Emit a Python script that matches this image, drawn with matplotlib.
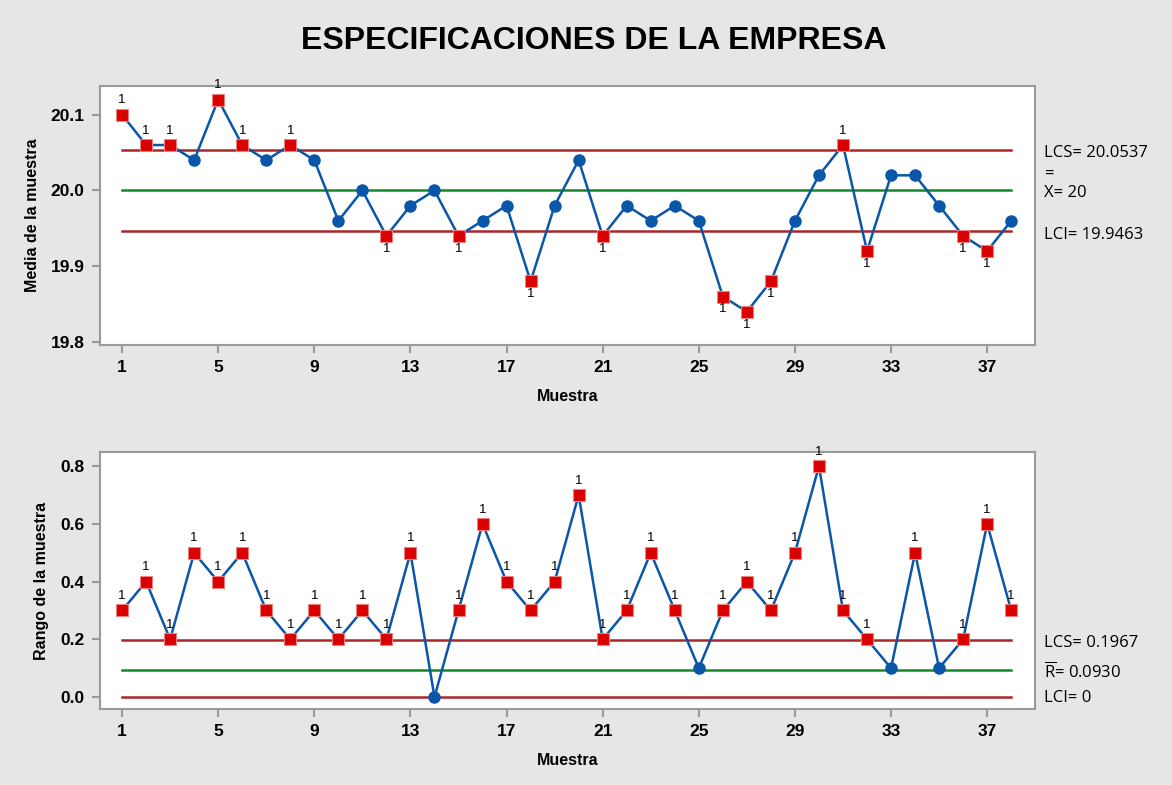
import matplotlib
matplotlib.use('Agg')
import matplotlib.pyplot as plt
import numpy as np

# datos
muestra = np.arange(1, 39)
medias = [20.10, 20.06, 20.06, 20.04, 20.12, 20.06, 20.04, 20.06, 20.04, 19.96,
          20.00, 19.94, 19.98, 20.00, 19.94, 19.96, 19.98, 19.88, 19.98, 20.04,
          19.94, 19.98, 19.96, 19.98, 19.96, 19.86, 19.84, 19.88, 19.96, 20.02,
          20.06, 19.92, 20.02, 20.02, 19.98, 19.94, 19.92, 19.96]
rangos = [0.3, 0.4, 0.2, 0.5, 0.4, 0.5, 0.3, 0.2, 0.3, 0.2,
          0.3, 0.2, 0.5, 0.0, 0.3, 0.6, 0.4, 0.3, 0.4, 0.7,
          0.2, 0.3, 0.5, 0.3, 0.1, 0.3, 0.4, 0.3, 0.5, 0.8,
          0.3, 0.2, 0.1, 0.5, 0.1, 0.2, 0.6, 0.3]
lim_x = [20.0537, 20.0, 19.9463]
lim_r = [0.1967, 0.0930, 0.0]
xticks = [1, 5, 9, 13, 17, 21, 25, 29, 33, 37]

azul = '#0a56a8'
rojo = '#d90000'
rojo_lin = '#a8282a'
verde = '#15882a'
gris = '#9a9a9a'
fondo = '#e6e6e6'

plt.rcParams['font.family'] = ['Liberation Sans', 'DejaVu Sans']
plt.rcParams['mathtext.fontset'] = 'custom'
plt.rcParams['mathtext.rm'] = 'Open Sans'

fig = plt.figure(figsize=(11.72, 7.85), dpi=100, facecolor=fondo)
fig.text(0.507, 0.948, 'ESPECIFICACIONES DE LA EMPRESA', ha='center', va='center',
         fontsize=23, fontweight='bold', color='black')

ax1 = fig.add_axes([0.0853, 0.5605, 0.798, 0.330])
ax2 = fig.add_axes([0.0853, 0.0968, 0.798, 0.327])


def carta(ax, y, lims, ylim, yticks, yfmt, ylabel):
    lcs, lc, lci = lims
    ax.plot([1, 38], [lcs, lcs], color=rojo_lin, lw=1.8, zorder=1)
    ax.plot([1, 38], [lc, lc], color=verde, lw=1.8, zorder=1)
    ax.plot([1, 38], [lci, lci], color=rojo_lin, lw=1.8, zorder=1)
    y = np.array(y)
    ax.plot(muestra, y, color=azul, lw=1.8, zorder=2)
    fuera = (y > lcs) | (y < lci)
    ax.plot(muestra[~fuera], y[~fuera], 'o', color=azul, ms=8, zorder=3)
    ax.plot(muestra[fuera], y[fuera], 's', color=rojo, mec='#f08080', mew=0.8,
            ms=8, zorder=3)
    for xi, yi in zip(muestra[fuera], y[fuera]):
        if yi > lcs:
            ax.annotate('1', (xi, yi), xytext=(0, 6), textcoords='offset points',
                        ha='center', va='bottom', fontsize=9.5)
        else:
            ax.annotate('1', (xi, yi), xytext=(0, -5), textcoords='offset points',
                        ha='center', va='top', fontsize=9.5)
    ax.set_xlim(0.08, 39.0)
    ax.set_ylim(*ylim)
    ax.set_xticks(xticks)
    ax.set_yticks(yticks)
    ax.set_yticklabels([yfmt.format(v) for v in yticks])
    ax.tick_params(direction='out', length=6, width=1.5, color=gris,
                   labelsize=12.5, pad=5)
    for lab in ax.get_xticklabels() + ax.get_yticklabels():
        lab.set_fontweight('bold')
    for s in ax.spines.values():
        s.set_color(gris)
        s.set_linewidth(1.5)
    ax.set_xlabel('Muestra', fontsize=11.5, fontweight='bold', labelpad=10)
    ax.set_ylabel(ylabel, fontsize=11.5, fontweight='bold', labelpad=8)


carta(ax1, medias, lim_x, (19.796, 20.138), [19.8, 19.9, 20.0, 20.1], '{:.1f}',
      'Media de la muestra')
carta(ax2, rangos, lim_r, (-0.0415, 0.848), [0.0, 0.2, 0.4, 0.6, 0.8], '{:.1f}',
      'Rango de la muestra')

# etiquetas de limites a la derecha
fam = ['Open Sans', 'DejaVu Sans']
tf = dict(fontsize=12, family=fam, va='center', ha='left')
fx = 1044 / 1172
fig.text(fx, 1 - 153 / 785, 'LCS= 20.0537', **tf)
fig.text(fx, 1 - 175 / 785, '=', **tf)
fig.text(fx, 1 - 193 / 785, 'X= 20', **tf)
fig.text(fx, 1 - 235 / 785, 'LCI= 19.9463', **tf)
fig.text(fx, 1 - 643 / 785, 'LCS= 0.1967', **tf)
fig.text(fx, 1 - 672 / 785, r'$\overline{\mathrm{R}}$= 0.0930', **tf)
fig.text(fx, 1 - 698 / 785, 'LCI= 0', **tf)

fig.savefig('out.png', dpi=100, facecolor=fondo)
